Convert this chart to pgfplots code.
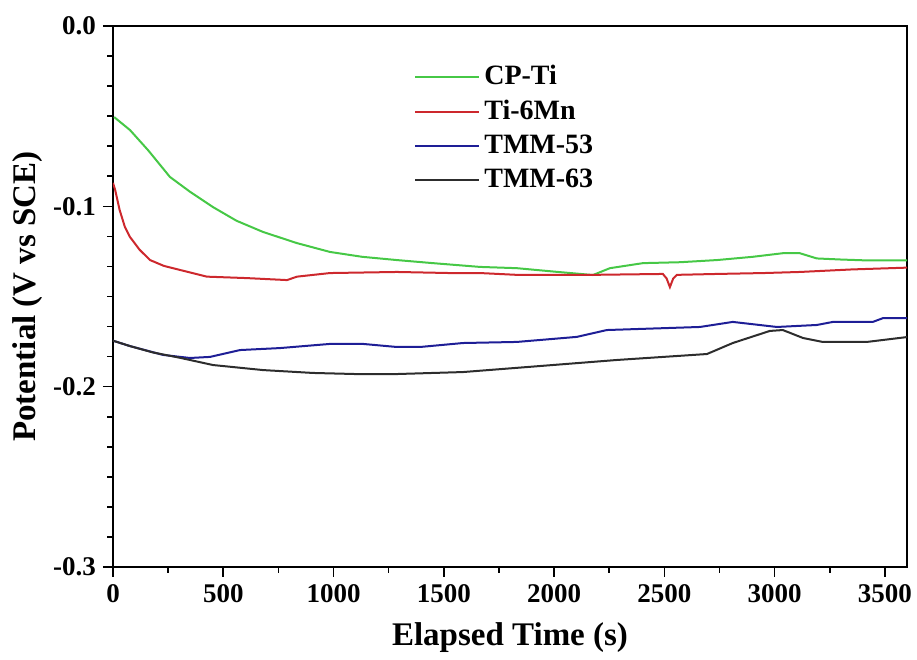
\documentclass[border=0pt]{standalone}
\usepackage{fontspec}
\setmainfont{Liberation Serif}
\usepackage{pgfplots}
\pgfplotsset{compat=1.18}
\definecolor{cpgreen}{RGB}{70,200,70}
\definecolor{mnred}{RGB}{205,40,45}
\definecolor{tmmblue}{RGB}{30,30,150}
\definecolor{tmmblack}{RGB}{45,45,45}

\begin{document}
\begin{tikzpicture}
\begin{axis}[
    scale only axis,
    width=397pt, height=270.5pt,
    xmin=0, xmax=3600,
    ymin=-0.3, ymax=0,
    xtick={0,500,...,3500},
    minor x tick num=1,
    ytick={-0.3,-0.2,-0.1,0},
    yticklabels={-0.3,-0.2,-0.1,0.0},
    minor y tick num=5,
    tick align=outside,
    tick pos=left,
    major tick length=5pt,
    minor tick length=2.8pt,
    every tick/.style={black, line width=0.8pt},
    /pgf/number format/1000 sep={},
    /pgf/number format/assume math mode=true,
    ticklabel style={font=\fontsize{13.5}{16}\selectfont\bfseries},
    xlabel={Elapsed Time (s)},
    ylabel={Potential (V vs SCE)},
    label style={font=\fontsize{16.5}{20}\selectfont\bfseries},
    xlabel style={at={(axis description cs:0.5,-0.131)}, anchor=center},
    ylabel style={at={(axis description cs:-0.107,0.5)}, anchor=center},
    axis line style={line width=0.9pt},
    legend style={draw=none, fill=none, at={(0.379,0.935)}, anchor=north west,
        font=\fontsize{14}{15}\selectfont\bfseries, row sep=2.2pt,
        inner sep=0pt},
    legend cell align=left,
    legend image code/.code={\draw[#1] (0pt,0pt) -- (32pt,0pt);},
    every axis plot/.append style={line width=1pt},
]
\addplot[cpgreen] coordinates {
(5,-0.0505) (77,-0.0577) (160,-0.069) (258,-0.0837) (350,-0.092) (453,-0.1004)
(560,-0.108) (680,-0.1142) (834,-0.1204) (984,-0.1253) (1130,-0.128)
(1287,-0.1298) (1450,-0.1315) (1664,-0.1336) (1831,-0.1343) (2000,-0.1362)
(2176,-0.1381) (2253,-0.1343) (2403,-0.1315) (2570,-0.1310) (2738,-0.1298)
(2900,-0.128) (3037,-0.1260) (3114,-0.1260) (3191,-0.1289) (3300,-0.1295)
(3418,-0.1300) (3600,-0.1300)
};
\addlegendentry{CP-Ti}
\addplot[mnred] coordinates {
(0,-0.087) (10,-0.091) (30,-0.102) (54,-0.1115) (77,-0.117) (120,-0.124)
(168,-0.1298) (230,-0.133) (304,-0.1353) (426,-0.139) (607,-0.1398)
(789,-0.1409) (834,-0.139) (984,-0.137) (1287,-0.1364) (1528,-0.137)
(1664,-0.137) (1831,-0.138) (2176,-0.138) (2493,-0.1375) (2510,-0.1400)
(2525,-0.1448) (2540,-0.1400) (2557,-0.138) (2738,-0.1375) (2950,-0.137)
(3114,-0.1364) (3350,-0.135) (3600,-0.134)
};
\addlegendentry{Ti-6Mn}
\addplot[tmmblue] coordinates {
(0,-0.1745) (77,-0.1775) (227,-0.1824) (349,-0.1841) (440,-0.1835)
(576,-0.1797) (757,-0.1786) (984,-0.1763) (1133,-0.1763) (1287,-0.178)
(1392,-0.178) (1587,-0.1758) (1831,-0.1752) (2103,-0.1724) (2239,-0.1686)
(2661,-0.1669) (2810,-0.1641) (3010,-0.1669) (3191,-0.1658) (3264,-0.1641)
(3445,-0.1641) (3491,-0.162) (3600,-0.162)
};
\addlegendentry{TMM-53}
\addplot[tmmblack] coordinates {
(0,-0.1745) (77,-0.1775) (180,-0.181) (304,-0.184) (453,-0.188)
(680,-0.1908) (907,-0.1924) (1100,-0.193) (1287,-0.193) (1587,-0.1919)
(1890,-0.189) (2285,-0.1852) (2693,-0.1819) (2810,-0.1758) (2978,-0.1691)
(3037,-0.1686) (3128,-0.173) (3218,-0.1752) (3418,-0.1752) (3600,-0.1725)
};
\addlegendentry{TMM-63}
\end{axis}
\pgfresetboundingbox
\path (current axis.south west) ++(-56.5pt,-46.5pt)
  rectangle (current axis.north east) ++(5pt,13pt);
\end{tikzpicture}
\end{document}
